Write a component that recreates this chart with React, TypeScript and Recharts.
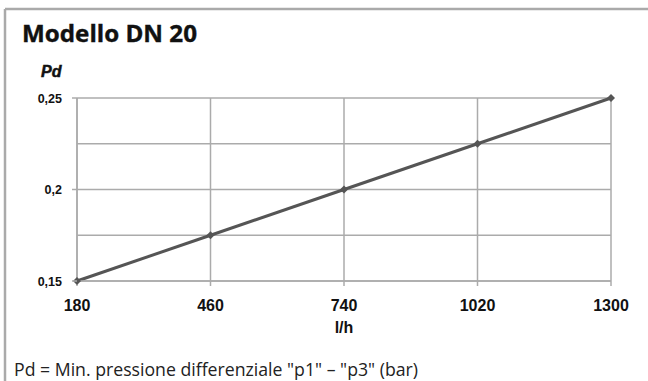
import { LineChart, Line, XAxis, YAxis, CartesianGrid } from 'recharts';

// flow (l/h) and minimum differential pressure (bar)
const flowRates = [180, 460, 740, 1020, 1300];
const pressures = [0.15, 0.175, 0.2, 0.225, 0.25];
const xTicks = [180, 460, 740, 1020, 1300];
const yTicks = [0.15, 0.175, 0.2, 0.225, 0.25];
const yLabelled = [0.15, 0.2, 0.25];

const chartData = flowRates.map((q, i) => ({ q, pd: pressures[i] }));

const GRID = '#ababab';
const INK = '#111';

const YTick = (props: any) => {
  const { x, y, payload } = props;
  if (!yLabelled.includes(payload.value)) return null;
  return (
    <g>
      <line x1={x - 5} x2={x} y1={y} y2={y} stroke={GRID} strokeWidth={1.5} />
      <text
        x={x - 15}
        y={y}
        dy="0.36em"
        textAnchor="end"
        fill={INK}
        style={{ fontFamily: 'Liberation Sans', fontWeight: 'bold', fontSize: 12.5 }}
      >
        {String(payload.value).replace('.', ',')}
      </text>
    </g>
  );
};

const Diamond = (props: any) => {
  const { cx, cy } = props;
  if (cx == null || cy == null) return null;
  const r = 4;
  return (
    <polygon
      points={`${cx},${cy - r} ${cx + r},${cy} ${cx},${cy + r} ${cx - r},${cy}`}
      fill="#555"
    />
  );
};

export default function App() {
  return (
    <div style={{ position: 'absolute', left: 0, top: 0, width: 648, height: 381, background: '#fff' }}>
      <LineChart
        width={648}
        height={381}
        data={chartData}
        margin={{ top: 98, right: 37, bottom: 70, left: 0 }}
      >
        <CartesianGrid stroke={GRID} strokeWidth={1.5} />
        <XAxis
          dataKey="q"
          type="number"
          domain={[180, 1300]}
          ticks={xTicks}
          height={30}
          tickSize={5}
          tickMargin={14}
          axisLine={{ stroke: GRID, strokeWidth: 1.5 }}
          tickLine={{ stroke: GRID, strokeWidth: 1.5 }}
          tick={{ fill: INK, fontFamily: 'Liberation Sans', fontWeight: 'bold', fontSize: 16 }}
        />
        <YAxis
          type="number"
          domain={[0.15, 0.25]}
          ticks={yTicks}
          width={77}
          tickLine={false}
          tickSize={0}
          tickMargin={0}
          axisLine={{ stroke: GRID, strokeWidth: 1.5 }}
          tick={<YTick />}
        />
        <Line
          dataKey="pd"
          stroke="#555"
          strokeWidth={3}
          dot={<Diamond />}
          activeDot={false}
          isAnimationActive={false}
        />
      </LineChart>
      <svg
        width={648}
        height={381}
        style={{ position: 'absolute', left: 0, top: 0, pointerEvents: 'none' }}
      >
        <line x1={5} x2={648} y1={9} y2={9} stroke="#aaa" strokeWidth={2.5} />
        <line x1={5} x2={5} y1={9} y2={381} stroke="#aaa" strokeWidth={2.5} />
        <text
          x={22}
          y={42}
          textLength={175}
          lengthAdjust="spacingAndGlyphs"
          fill={INK}
          stroke={INK}
          strokeWidth={0.4}
          style={{ fontFamily: 'Open Sans', fontWeight: 'bold', fontSize: 24 }}
        >
          Modello DN 20
        </text>
        <text
          x={41}
          y={77}
          fill={INK}
          stroke={INK}
          strokeWidth={0.5}
          style={{ fontFamily: 'Liberation Sans', fontWeight: 'bold', fontStyle: 'italic', fontSize: 16 }}
        >
          Pd
        </text>
        <text
          x={344}
          y={333}
          textAnchor="middle"
          fill={INK}
          style={{ fontFamily: 'Liberation Sans', fontWeight: 'bold', fontSize: 16 }}
        >
          l/h
        </text>
        <text
          x={14}
          y={376}
          textLength={404}
          lengthAdjust="spacingAndGlyphs"
          fill="#222"
          style={{ fontFamily: 'Open Sans', fontSize: 19 }}
        >
          Pd = Min. pressione differenziale "p1" – "p3" (bar)
        </text>
      </svg>
    </div>
  );
}
